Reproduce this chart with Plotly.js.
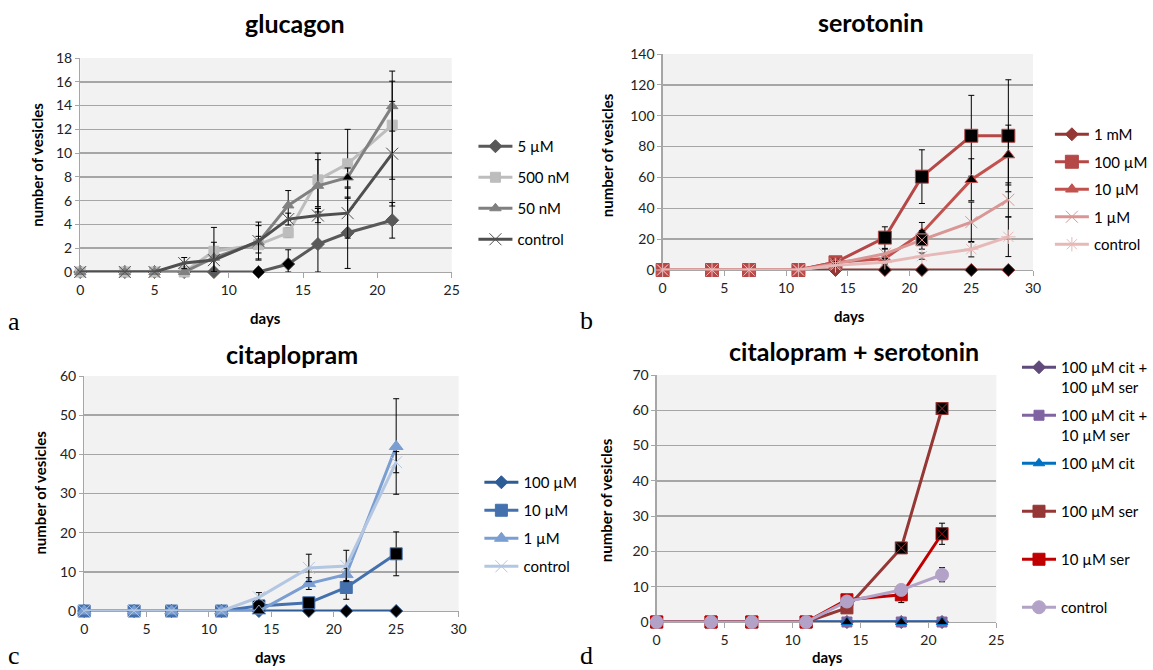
<!DOCTYPE html>
<html><head><meta charset="utf-8">
<script src="https://cdn.plot.ly/plotly-3.0.1.min.js"></script>
<style>html,body{margin:0;padding:0;background:#fff}#chart{width:1153px;height:670px}</style>
</head><body><div id="chart"></div>
<script>
// ---------- Panel a: glucagon ----------
const glucDays    = [0,3,5,7,9,12,14,16,18,21];
const gluc5uM     = [0,0,0,0,0,0,0.67,2.35,3.3,4.35];
const gluc500nM   = [0,0,0,0,1.75,2.3,3.3,7.75,9.1,12.35];
const gluc50nM    = [0,0,0,0,1.2,2.5,5.6,7.25,7.95,13.95];
const glucCtrl    = [0,0,0,0.75,1.0,2.6,4.45,4.75,4.95,9.95];
const gluc5uMErr  = [0,0,0,0,0,0,1.2,3.0,3.0,1.5];
const gluc500nMErr= [0,0,0,0,2.0,0.7,0.4,2.25,2.9,4.55];
const gluc50nMErr = [0,0,0,0,0,1.4,1.25,2.2,0.8,2.1];
const glucCtrlErr = [0,0,0,0.47,1.5,1.6,0.5,0.6,2.1,4.4];
const glucNames   = ['5 µM','500 nM','50 nM','control'];

// ---------- Panel b: serotonin ----------
const serDays     = [0,4,7,11,14,18,21,25,28];
const ser1mM      = [0,0,0,0,0,0,0,0,0];
const ser100uM    = [0,0,0,0,5,21,60.5,87,87];
const ser10uM     = [0,0,0,0,5,7.5,24,58.5,74.5];
const ser1uM      = [0,0,0,0,4,10.5,19.5,31,45.5];
const serCtrl     = [0,0,0,0,3,5,9,13.5,21.5];
const ser100uMErr = [0,0,0,0,2,7,17.4,26.2,36.3];
const ser10uMErr  = [0,0,0,0,2,3,6.8,13.6,19.4];
const ser1uMErr   = [0,0,0,0,1.5,3,6,13,11];
const serCtrlErr  = [0,0,0,0,1,1.5,2,5,12.8];
const serNames    = ['1 mM','100 µM','10 µM','1 µM','control'];

// ---------- Panel c: citaplopram ----------
const citDays     = [0,4,7,11,14,18,21,25];
const cit100uM    = [0,0,0,0,0,0,0,0];
const cit10uM     = [0,0,0,0,1.3,2.1,6,14.6];
const cit1uM      = [0,0,0,0,0,7,9.3,42];
const citCtrl     = [0,0,0,0,3.5,11,11.5,38];
const cit10uMErr  = [0,0,0,0,0.5,1,3,5.6];
const cit1uMErr   = [0,0,0,0,0,1.5,1.5,12.2];
const citCtrlErr  = [0,0,0,0,1.2,3.5,4,2.7];
const citNames    = ['100 µM','10 µM','1 µM','control'];

// ---------- Panel d: citalopram + serotonin ----------
const csDays      = [0,4,7,11,14,18,21];
const cs100cit100ser = [0,0,0,0,0,0,0];
const cs100cit10ser  = [0,0,0,0,0,0,0];
const cs100cit    = [0,0,0,0,0,0,0];
const cs100ser    = [0,0,0,0,4,21,60.5];
const cs10ser     = [0,0,0,0,6.3,7.7,25];
const csCtrl      = [0,0,0,0,5.8,9.1,13.4];
const cs10serErr  = [0,0,0,0,0.5,2.2,3];
const csCtrlErr   = [0,0,0,0,0.5,1,2];
const csNames     = ['100 µM cit +<br>100 µM ser','100 µM cit +<br>10 µM ser','100 µM cit<br>&nbsp;','100 µM ser<br>&nbsp;','10 µM ser<br>&nbsp;','control'];

// ---------- Text ----------
const panelTitles = ['glucagon','serotonin','citaplopram','citalopram + serotonin'];
const panelLetters = ['a','b','c','d'];
const xTitle = 'days';
const yTitle = 'number of vesicles';

const W = 1153, H = 670;
const FONT = 'Lato, "Open Sans", sans-serif';

function err(vals, e){
  if(!e) return {visible:false};
  return {type:'data', symmetric:false, array:e,
    arrayminus:e.map((v,i)=>Math.min(v, vals[i])),
    color:'#000', thickness:1, width:3};
}
function pointColors(n, base, blackIdx){
  const c = new Array(n).fill(base);
  (blackIdx||[]).forEach(i=>{c[i]='#000';});
  return c;
}
function tr(x, y, e, name, color, symbol, ax, leg, group, opts){
  opts = opts || {};
  const n = x.length;
  return {
    type:'scatter', mode:'lines+markers', x:x, y:y, name:name,
    xaxis:'x'+ax, yaxis:'y'+ax, legend:leg, legendgroup:group,
    cliponaxis:false,
    line:{color:color, width:opts.lw||3},
    marker:{symbol:opts.symbols||symbol, size:opts.size||10,
      color:pointColors(n, opts.fill||color, opts.black),
      line:{color:opts.mline||color, width:1}},
    error_y:err(y, e)
  };
}

const g = {d5:'#595959', d500:'#BDBDBD', d50:'#808080', ctrl:'#4F4F4F'};
const s = {m1:'#953735', u100:'#B54746', u10:'#C3514E', u1:'#D99694', ctrl:'#E6B9B8'};
const c = {u100:'#2E5C95', u10:'#4471AE', u1:'#7B9ED2', ctrl:'#B4C7E2'};
const d = {a:'#604A7B', b:'#8064A2', cit:'#0070C0', ser100:'#953735', ser10:'#C00000', ctrl:'#B3A2C7'};

const data = [
  tr(glucDays, gluc5uM, gluc5uMErr, glucNames[0], g.d5, 'diamond', '', 'legend', 'a1', {black:[5,6]}),
  tr(glucDays, gluc500nM, gluc500nMErr, glucNames[1], g.d500, 'square', '', 'legend', 'a2'),
  tr(glucDays, gluc50nM, gluc50nMErr, glucNames[2], g.d50, 'triangle-up', '', 'legend', 'a3', {black:[8]}),
  tr(glucDays, glucCtrl, glucCtrlErr, glucNames[3], g.ctrl, 'x-thin-open', '', 'legend', 'a4', {size:12, mline:g.ctrl}),

  tr(serDays, ser1mM, null, serNames[0], s.m1, 'diamond', '2', 'legend2', 'b1', {black:[5,6,7,8]}),
  tr(serDays, ser100uM, ser100uMErr, serNames[1], s.u100, 'square', '2', 'legend2', 'b2', {black:[5,6,7,8], size:13}),
  tr(serDays, ser10uM, ser10uMErr, serNames[2], s.u10, 'triangle-up', '2', 'legend2', 'b3', {black:[6,7,8], size:11}),
  tr(serDays, ser1uM, ser1uMErr, serNames[3], s.u1, 'x-thin-open', '2', 'legend2', 'b4',
     {size:12, symbols:['x-thin-open','x-thin-open','x-thin-open','x-thin-open','x-thin-open','x-thin-open','square-x','x-thin-open','x-thin-open'], black:[6]}),
  tr(serDays, serCtrl, serCtrlErr, serNames[4], s.ctrl, 'asterisk-open', '2', 'legend2', 'b5', {size:12}),

  tr(citDays, cit100uM, null, citNames[0], c.u100, 'diamond', '3', 'legend3', 'c1', {black:[5,6,7]}),
  tr(citDays, cit10uM, cit10uMErr, citNames[1], c.u10, 'square', '3', 'legend3', 'c2', {black:[4,5,7], size:12}),
  tr(citDays, cit1uM, cit1uMErr, citNames[2], c.u1, 'triangle-up', '3', 'legend3', 'c3', {black:[4], size:12}),
  tr(citDays, citCtrl, citCtrlErr, citNames[3], c.ctrl, 'x-thin-open', '3', 'legend3', 'c4', {size:12}),

  tr(csDays, cs100cit100ser, null, csNames[0], d.a, 'diamond', '4', 'legend4', 'd1'),
  tr(csDays, cs100cit10ser, null, csNames[1], d.b, 'square', '4', 'legend4', 'd2'),
  tr(csDays, cs100cit, null, csNames[2], d.cit, 'triangle-up', '4', 'legend4', 'd3', {black:[4,5,6]}),
  tr(csDays, cs100ser, null, csNames[3], d.ser100, 'square', '4', 'legend4', 'd4',
     {size:12, symbols:['square','square','square','square','square','square-x','square-x'], black:[5,6]}),
  tr(csDays, cs10ser, cs10serErr, csNames[4], d.ser10, 'square', '4', 'legend4', 'd5',
     {size:12, symbols:['square','square','square','square','square','square','square-x'], black:[6]}),
  tr(csDays, csCtrl, csCtrlErr, csNames[5], d.ctrl, 'circle', '4', 'legend4', 'd6', {size:13})
];

// plot rectangles in pixels [left, right, top, bottom]
const rects = [[81,456,58,272],[669,1043,54,270],[85,463,376,611],[663,1006,375,622]];
const xr = [[0,25],[0,30],[0,30],[0,25]];
const yr = [[0,18],[0,140],[0,60],[0,70]];
const yd = [2,20,10,10];

const layout = {
  width:W, height:H, margin:{l:0,r:0,t:0,b:0},
  paper_bgcolor:'#fff', plot_bgcolor:'#F2F2F2',
  font:{family:FONT, color:'#000', size:14},
  showlegend:true, annotations:[]
};
const axBase = {showline:true, linecolor:'#A6A6A6', linewidth:1.2, ticks:'outside', ticklen:5,
  tickcolor:'#A6A6A6', tickfont:{family:FONT, size:14, color:'#222'}, zeroline:false,
  layer:'below traces', fixedrange:true};
rects.forEach((r,i)=>{
  const k = i===0 ? '' : String(i+1);
  layout['xaxis'+k] = Object.assign({}, axBase, {domain:[r[0]/W, r[1]/W], range:xr[i], dtick:5,
    showgrid:false, anchor:'y'+k});
  layout['yaxis'+k] = Object.assign({}, axBase, {domain:[1-r[3]/H, 1-r[2]/H], range:yr[i], dtick:yd[i],
    showgrid:true, gridcolor:'#A6A6A6', gridwidth:1.5, anchor:'x'+k, ticklen:4});
});

const legPos = [[478,130,8.5],[1060,118,5],[484,466,5.5],[1027,351,6]];
['legend','legend2','legend3','legend4'].forEach((l,i)=>{
  layout[l] = {x:legPos[i][0]/W, y:1-legPos[i][1]/H, xanchor:'left', yanchor:'top',
    font:{family:FONT, size:15, color:'#000'}, bgcolor:'rgba(0,0,0,0)', borderwidth:0,
    tracegroupgap:legPos[i][2], traceorder:'grouped', itemwidth:34, valign:'top'};
});

function ann(text, x, y, font, extra){
  layout.annotations.push(Object.assign({text:text, x:x/W, y:1-y/H, xref:'paper', yref:'paper',
    showarrow:false, xanchor:'center', yanchor:'middle', font:font}, extra||{}));
}
const titlePos = [[298,23],[879,22],[295,354],[862,351]];
const xtPos = [[268,318],[858,316],[273,657],[835,657]];
const ytPos = [[37,165],[613,155],[40,493],[612,500]];
const letPos = [[14,321],[592,320],[14,655],[592,655]];
for(let i=0;i<4;i++){
  ann('<b>'+panelTitles[i]+'</b>', titlePos[i][0], titlePos[i][1], {family:FONT, size:25, color:'#000'});
  ann('<b>'+xTitle+'</b>', xtPos[i][0], xtPos[i][1], {family:FONT, size:15, color:'#000'});
  ann('<b>'+yTitle+'</b>', ytPos[i][0], ytPos[i][1], {family:FONT, size:15, color:'#000'}, {textangle:-90});
  ann(panelLetters[i], letPos[i][0], letPos[i][1], {family:'"Liberation Serif", serif', size:26, color:'#000'});
}

Plotly.newPlot('chart', data, layout, {displayModeBar:false, staticPlot:true});
</script></body></html>
